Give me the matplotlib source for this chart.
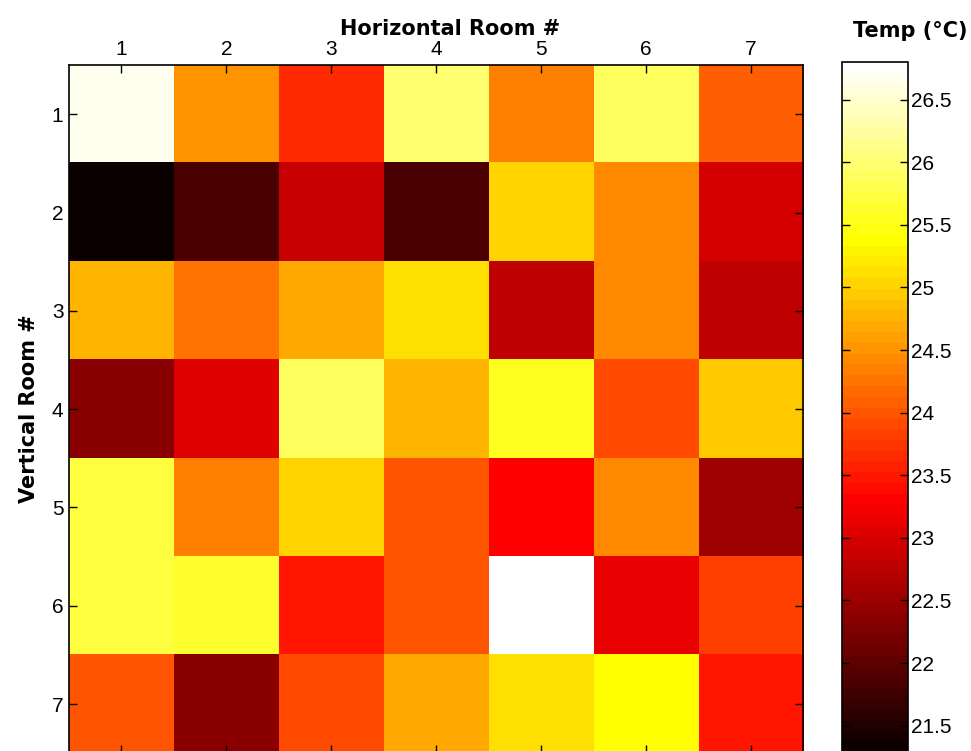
import numpy as np
import matplotlib
matplotlib.use("Agg")
import matplotlib.pyplot as plt

plt.rcParams['font.family'] = ['Liberation Sans', 'DejaVu Sans']

# room numbers
rooms_h = [1, 2, 3, 4, 5, 6, 7]
rooms_v = [1, 2, 3, 4, 5, 6, 7]

# temperature (deg C), one list per vertical room row
row1 = [26.66, 24.51, 23.66, 26.02, 24.35, 25.86, 24.08]
row2 = [21.28, 21.84, 22.86, 21.84, 25.01, 24.45, 22.92]
row3 = [24.75, 24.28, 24.68, 25.11, 22.80, 24.45, 22.80]
row4 = [22.38, 23.05, 25.88, 24.75, 25.54, 23.92, 24.98]
row5 = [25.71, 24.35, 25.01, 24.02, 23.30, 24.43, 22.55]
row6 = [25.71, 25.62, 23.49, 24.02, 26.80, 23.14, 23.86]
row7 = [24.00, 22.38, 23.90, 24.65, 25.11, 25.40, 23.49]

cbar_ticks = [21.5, 22, 22.5, 23, 23.5, 24, 24.5, 25, 25.5, 26, 26.5]

temps = np.array([row1, row2, row3, row4, row5, row6, row7])

fig = plt.figure(figsize=(9.71, 7.51), dpi=100)
ax = fig.add_axes([0.0711, -0.003, 0.756, 0.9164])
cax = fig.add_axes([0.867, -0.003, 0.068, 0.9204])

cmap = plt.get_cmap('hot', 64)
im = ax.imshow(temps, cmap=cmap, aspect='auto', interpolation='nearest',
               vmin=temps.min(), vmax=temps.max(),
               extent=[0.5, len(rooms_h) + 0.5, len(rooms_v) + 0.5, 0.5])

ax.set_xticks(rooms_h)
ax.set_yticks(rooms_v)
ax.xaxis.set_ticks_position('both')
ax.yaxis.set_ticks_position('both')
ax.tick_params(axis='x', which='both', labeltop=True, labelbottom=False)
ax.tick_params(direction='in', length=6, width=1, labelsize=15, pad=4)
lbl_font = dict(family='DejaVu Sans', fontsize=15, fontweight='bold')
ax.set_xlabel('Horizontal Room #', labelpad=4, **lbl_font)
ax.xaxis.set_label_position('top')
ax.xaxis.label.set_x(0.519)
ax.set_ylabel('Vertical Room #', labelpad=9, **lbl_font)
for s in ax.spines.values():
    s.set_linewidth(1.2)

cb = fig.colorbar(im, cax=cax)
cb.set_ticks(cbar_ticks)
cb.set_ticklabels([('%g' % t) for t in cbar_ticks])
cax.yaxis.set_ticks_position('both')
cax.tick_params(direction='in', length=6, width=1, labelsize=15, pad=2,
                labelleft=False, labelright=True)
cb.outline.set_linewidth(1.2)
fig.text(0.937, 1 - 37 / 751, 'Temp (\u00b0C)', ha='center', va='baseline', **lbl_font)

plt.savefig('out.png', dpi=100)
plt.close()
